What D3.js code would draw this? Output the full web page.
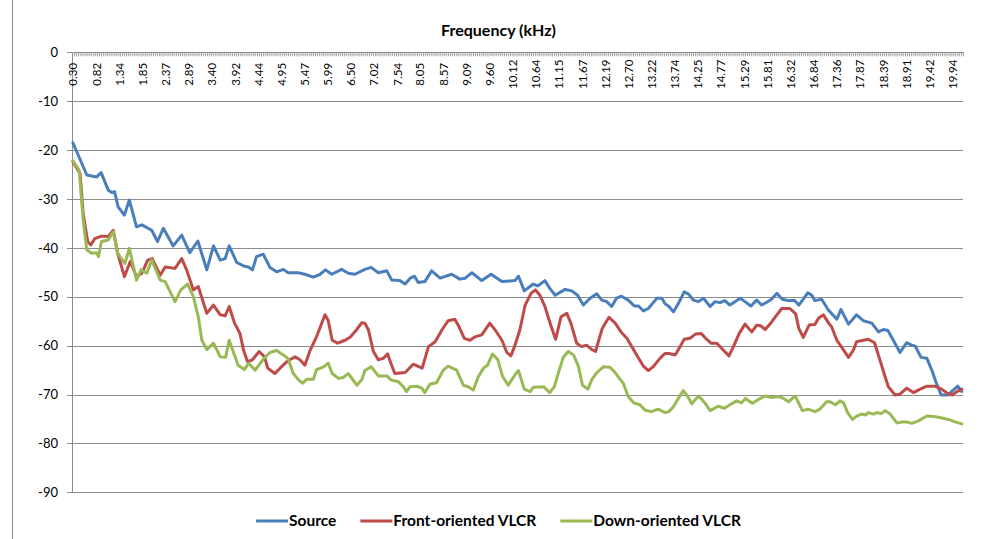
<!DOCTYPE html>
<html>
<head>
<meta charset="utf-8">
<script src="https://cdn.jsdelivr.net/npm/d3@7"></script>
<style>
  body { margin: 0; background: #fff; }
  svg { display: block; font-family: Lato, "Open Sans", sans-serif; }
</style>
</head>
<body>
<div id="chart"></div>
<script>
// tick labels on the frequency axis (kHz)
var freqLabels = ["0.30","0.82","1.34","1.85","2.37","2.89","3.40","3.92","4.44","4.95",
  "5.47","5.99","6.50","7.02","7.54","8.05","8.57","9.09","9.60","10.12",
  "10.64","11.15","11.67","12.19","12.70","13.22","13.74","14.25","14.77","15.29",
  "15.81","16.32","16.84","17.36","17.87","18.39","18.91","19.42","19.94"];
var yTicks = [0,-10,-20,-30,-40,-50,-60,-70,-80,-90];

// [kHz, dB]
var source = [
[0.30,-18.5],[0.61,-25.1],[0.83,-25.5],[0.93,-24.6],[1.09,-28.2],[1.17,-28.7],[1.23,-28.5],[1.31,-31.6],[1.45,-33.3],[1.56,-30.2],[1.72,-35.7],[1.84,-35.3],[2.06,-36.4],[2.19,-38.7],[2.32,-36.0],[2.54,-39.6],[2.73,-37.4],[2.91,-41.0],[3.09,-38.6],[3.29,-44.5],[3.44,-39.6],
[3.59,-42.5],[3.70,-42.2],[3.79,-39.6],[3.96,-43.0],[4.11,-43.7],[4.22,-43.9],[4.31,-44.5],[4.40,-41.8],[4.55,-41.3],[4.70,-44.0],[4.85,-44.9],[5.00,-44.4],[5.11,-45.1],[5.33,-45.1],[5.48,-45.4],[5.67,-46.0],[5.82,-45.4],[5.94,-44.5],[6.08,-45.4],[6.30,-44.4],[6.45,-45.2],[6.60,-45.4],[6.82,-44.4],
[6.96,-44.0],[7.12,-45.1],[7.31,-44.7],[7.42,-46.6],[7.60,-46.7],[7.72,-47.4],[7.83,-46.2],[7.93,-45.8],[8.01,-47.1],[8.16,-46.9],[8.31,-44.7],[8.50,-46.2],[8.76,-45.4],[8.94,-46.4],[9.06,-46.2],[9.21,-45.1],[9.43,-46.7],[9.64,-45.4],[9.88,-46.9],[10.17,-46.7],
[10.25,-45.8],[10.38,-48.8],[10.58,-47.4],[10.68,-47.8],[10.84,-46.7],[10.95,-48.3],[11.07,-49.7],[11.29,-48.5],[11.44,-48.8],[11.57,-49.7],[11.70,-51.7],[11.85,-50.3],[12.00,-49.4],[12.11,-50.7],[12.22,-51.0],[12.33,-52.0],[12.44,-50.3],[12.55,-49.9],[12.70,-50.7],[12.84,-51.9],[12.93,-51.9],[13.04,-52.9],[13.15,-52.4],[13.34,-50.3],[13.45,-50.3],[13.52,-51.4],
[13.61,-52.0],[13.71,-53.1],[13.82,-51.4],[13.95,-49.0],[14.04,-49.4],[14.16,-50.7],[14.27,-51.0],[14.38,-50.3],[14.53,-52.0],[14.64,-51.0],[14.75,-51.2],[14.86,-50.8],[14.97,-51.7],[15.09,-51.0],[15.20,-50.3],[15.31,-51.0],[15.44,-51.9],[15.57,-50.7],[15.68,-51.7],[15.82,-51.0],[15.90,-50.5],[16.02,-49.3],[16.14,-50.5],[16.28,-50.8],[16.41,-50.7],[16.51,-51.7],[16.61,-50.5],[16.71,-49.2],[16.80,-49.7],
[16.87,-50.8],[17.02,-50.5],[17.17,-52.7],[17.36,-54.6],[17.45,-52.6],[17.62,-55.6],[17.80,-53.7],[17.95,-54.9],[18.14,-55.4],[18.29,-57.2],[18.40,-56.7],[18.50,-56.9],[18.62,-58.9],[18.77,-61.4],[18.92,-59.4],[19.03,-59.9],[19.11,-60.1],[19.24,-62.4],[19.37,-62.6],[19.48,-65.0],[19.57,-67.4],[19.69,-70.1],[19.84,-70.1],[19.96,-69.1],[20.06,-68.3],[20.15,-69.4]
];

var front = [
[0.30,-22.4],[0.46,-24.8],[0.53,-33.0],[0.63,-38.7],[0.70,-39.4],[0.79,-38.1],[0.94,-37.6],[1.09,-37.7],[1.20,-36.4],[1.30,-41.1],[1.45,-45.9],[1.58,-42.8],[1.72,-45.9],[1.84,-45.2],[1.97,-42.5],[2.07,-42.2],[2.25,-45.6],[2.36,-43.9],[2.58,-44.2],[2.73,-42.2],[2.84,-44.5],[2.99,-48.6],[3.10,-47.9],[3.29,-53.4],[3.44,-51.7],
[3.59,-53.7],[3.70,-53.9],[3.79,-52.0],[3.91,-55.4],[4.03,-57.5],[4.11,-60.9],[4.20,-63.3],[4.31,-62.9],[4.46,-61.2],[4.58,-62.3],[4.65,-64.6],[4.81,-65.7],[4.96,-64.3],[5.10,-63.1],[5.26,-62.3],[5.37,-62.9],[5.48,-64.0],[5.60,-60.9],[5.74,-58.2],[5.93,-53.7],[6.00,-54.8],[6.09,-58.9],[6.21,-59.5],[6.38,-58.9],[6.49,-58.3],[6.64,-56.7],[6.75,-55.3],
[6.82,-55.4],[6.90,-56.8],[7.01,-61.2],[7.12,-62.9],[7.23,-62.6],[7.33,-61.7],[7.40,-63.6],[7.49,-65.7],[7.72,-65.5],[7.90,-63.8],[8.00,-64.2],[8.10,-64.6],[8.24,-60.2],[8.39,-59.2],[8.54,-56.8],[8.68,-54.9],[8.83,-54.6],[8.92,-56.1],[9.04,-58.5],[9.17,-58.9],[9.28,-58.2],[9.43,-57.8],[9.61,-55.4],[9.76,-57.2],[9.88,-58.9],[9.99,-61.4],[10.08,-62.1],[10.17,-60.0],
[10.28,-56.8],[10.40,-51.7],[10.53,-49.3],[10.63,-48.6],[10.73,-49.7],[10.84,-52.0],[10.98,-56.1],[11.08,-58.7],[11.20,-54.1],[11.33,-53.4],[11.42,-55.4],[11.55,-59.5],[11.66,-60.2],[11.77,-59.9],[11.89,-60.8],[11.97,-61.2],[12.12,-56.5],[12.27,-54.2],[12.41,-55.4],[12.54,-57.2],[12.67,-58.5],[12.78,-60.2],[12.89,-61.9],[13.04,-64.2],[13.15,-65.1],[13.26,-64.3],[13.41,-62.6],[13.52,-61.6],
[13.61,-61.6],[13.75,-61.9],[13.86,-60.2],[13.95,-58.7],[14.08,-58.5],[14.21,-57.6],[14.33,-57.5],[14.43,-58.5],[14.55,-59.5],[14.68,-59.5],[14.79,-60.6],[14.95,-62.1],[15.05,-60.2],[15.18,-57.5],[15.31,-55.6],[15.46,-57.2],[15.57,-55.8],[15.67,-56.0],[15.76,-56.7],[15.89,-55.3],[16.02,-53.7],[16.13,-52.4],[16.31,-52.4],[16.44,-53.5],[16.51,-56.5],[16.61,-58.3],[16.74,-55.8],[16.87,-55.7],
[16.95,-54.4],[17.06,-53.7],[17.17,-55.3],[17.24,-56.1],[17.36,-58.9],[17.51,-60.9],[17.62,-62.4],[17.73,-60.9],[17.80,-59.2],[17.95,-58.9],[18.06,-58.7],[18.20,-59.4],[18.30,-62.3],[18.40,-65.3],[18.51,-68.4],[18.66,-70.1],[18.77,-69.9],[18.92,-68.7],[19.07,-69.6],[19.22,-68.9],[19.37,-68.3],[19.55,-68.3],[19.70,-68.9],[19.85,-69.9],[19.94,-70.1],[20.04,-69.4],[20.15,-68.9]
];

var down = [
[0.30,-22.2],[0.44,-24.1],[0.53,-34.3],[0.61,-40.4],[0.72,-41.1],[0.83,-41.0],[0.87,-41.8],[0.94,-38.7],[1.09,-38.4],[1.20,-36.7],[1.30,-41.1],[1.46,-43.2],[1.56,-40.1],[1.72,-46.6],[1.82,-44.5],[1.95,-45.2],[2.06,-42.5],[2.25,-46.6],[2.36,-46.9],[2.58,-51.0],[2.71,-48.6],[2.86,-47.4],[2.99,-50.0],[3.10,-54.1],[3.18,-58.9],[3.29,-60.8],[3.44,-59.5],
[3.59,-62.3],[3.71,-62.4],[3.79,-58.9],[3.88,-61.2],[3.99,-64.0],[4.13,-64.9],[4.22,-63.6],[4.37,-65.0],[4.55,-62.8],[4.70,-61.4],[4.85,-61.0],[5.00,-61.9],[5.10,-62.6],[5.22,-65.7],[5.33,-66.9],[5.43,-67.7],[5.52,-66.9],[5.67,-66.9],[5.74,-64.9],[5.89,-64.4],[6.00,-63.6],[6.09,-65.7],[6.23,-66.7],[6.34,-66.5],[6.45,-65.7],[6.64,-68.1],[6.75,-67.0],
[6.82,-65.1],[6.96,-64.3],[7.12,-66.2],[7.31,-66.2],[7.40,-67.0],[7.57,-67.4],[7.68,-68.4],[7.75,-69.4],[7.83,-68.4],[7.98,-68.3],[8.09,-68.7],[8.16,-69.6],[8.27,-67.9],[8.42,-67.6],[8.57,-65.0],[8.68,-64.2],[8.87,-65.0],[9.02,-68.1],[9.13,-68.4],[9.24,-69.1],[9.35,-66.4],[9.47,-64.6],[9.56,-64.0],[9.67,-61.7],[9.79,-62.9],[9.89,-66.2],[10.02,-68.1],[10.17,-66.0],
[10.25,-65.1],[10.38,-68.9],[10.51,-69.4],[10.58,-68.5],[10.81,-68.4],[10.95,-69.6],[11.05,-68.4],[11.16,-65.0],[11.25,-62.4],[11.36,-61.2],[11.48,-61.9],[11.59,-64.3],[11.68,-68.1],[11.80,-68.9],[11.89,-66.9],[12.00,-65.5],[12.15,-64.3],[12.29,-64.4],[12.41,-65.5],[12.52,-66.9],[12.59,-67.7],[12.70,-70.4],[12.82,-71.7],[12.96,-72.1],[13.08,-73.2],[13.22,-73.5],[13.37,-73.0],[13.52,-73.7],
[13.61,-73.5],[13.71,-72.5],[13.82,-70.8],[13.93,-69.2],[14.03,-70.4],[14.12,-71.9],[14.27,-70.3],[14.42,-71.8],[14.53,-73.3],[14.71,-72.4],[14.85,-72.8],[14.97,-72.1],[15.12,-71.3],[15.23,-71.7],[15.32,-70.8],[15.47,-71.8],[15.61,-71.0],[15.76,-70.3],[15.90,-70.6],[16.05,-70.4],[16.17,-70.8],[16.28,-71.5],[16.43,-70.3],[16.59,-73.3],[16.72,-73.0],[16.87,-73.5],
[16.98,-73.0],[17.13,-71.5],[17.21,-71.5],[17.33,-72.1],[17.43,-71.3],[17.51,-71.7],[17.60,-73.7],[17.71,-75.1],[17.80,-74.4],[17.91,-74.0],[18.00,-74.2],[18.06,-73.7],[18.18,-74.0],[18.25,-73.7],[18.35,-73.9],[18.44,-73.3],[18.55,-74.0],[18.70,-75.8],[18.82,-75.6],[18.92,-75.6],[19.03,-75.9],[19.18,-75.4],[19.37,-74.4],[19.52,-74.5],[19.66,-74.7],[19.85,-75.1],[20.00,-75.6],[20.15,-76.0]
];

var seriesNames = ["Source", "Front-oriented VLCR", "Down-oriented VLCR"];
var seriesColors = ["#4A7EBB", "#BE4B48", "#98B954"];
var allSeries = [source, front, down];

var svgWidth = 984, svgHeight = 539;
var plot = {left: 72, right: 963, top: 52.3, bottom: 492.3};
var font = "Lato, 'Open Sans', sans-serif";

// width of one FFT bin in kHz (44.1 kHz / 1024)
var bin = 44.1 / 1024;

var svg = d3.select("#chart").append("svg")
  .attr("width", svgWidth)
  .attr("height", svgHeight);

svg.append("rect").attr("width", svgWidth).attr("height", svgHeight).attr("fill", "#fff");

// chart frame edge
svg.append("line")
  .attr("x1", 12.5).attr("x2", 12.5).attr("y1", 0).attr("y2", svgHeight)
  .attr("stroke", "#8a8a8a").attr("stroke-width", 1);

var x = d3.scaleLinear().domain([6.5 * bin, 468.5 * bin]).range([plot.left, plot.right]);
var y = d3.scaleLinear().domain([-90, 0]).range([plot.bottom, plot.top]);

// gridlines
svg.append("g")
  .attr("transform", `translate(${plot.left},0)`)
  .call(d3.axisLeft(y).tickValues(yTicks.filter(d => d < 0)).tickSize(-(plot.right - plot.left)).tickFormat(""))
  .call(g => g.select(".domain").remove())
  .call(g => g.selectAll("line").attr("stroke", "#8c8c8c").attr("shape-rendering", "crispEdges"));

// y axis
svg.append("g")
  .attr("transform", `translate(${plot.left},0)`)
  .call(d3.axisLeft(y).tickValues(yTicks).tickSize(5).tickSizeOuter(0).tickPadding(9).tickFormat(d => String(d)))
  .call(g => g.select(".domain").attr("stroke", "#8c8c8c").attr("shape-rendering", "crispEdges"))
  .call(g => g.selectAll("line").attr("stroke", "#8c8c8c").attr("shape-rendering", "crispEdges"))
  .call(g => g.selectAll("text").attr("font-size", 13).attr("fill", "#000").attr("font-family", font));

// category boundary comb along the top axis
var boundaries = d3.range(6, 469).map(b => (b + 0.5) * bin);
svg.append("g")
  .attr("transform", `translate(0,${plot.top})`)
  .call(d3.axisBottom(x).tickValues(boundaries).tickSize(4).tickSizeOuter(0).tickFormat(""))
  .call(g => g.select(".domain").attr("stroke", "#8c8c8c").attr("shape-rendering", "crispEdges"))
  .call(g => g.selectAll(".tick line").attr("stroke", "#8c8c8c").attr("stroke-width", 0.8));

// frequency labels, rotated, hanging below the top axis
svg.append("g")
  .attr("transform", `translate(0,${plot.top})`)
  .call(d3.axisBottom(x).tickValues(freqLabels.map(Number)).tickSize(0).tickFormat((d, i) => freqLabels[i]))
  .call(g => g.select(".domain").remove())
  .call(g => g.selectAll("text")
    .attr("transform", "rotate(-90)")
    .attr("x", -22)
    .attr("y", 0)
    .attr("dy", "0.35em")
    .attr("text-anchor", "middle")
    .attr("font-size", 11.5)
    .attr("fill", "#000")
    .attr("font-family", font));

// title
svg.append("text")
  .attr("x", 498.5).attr("y", 36)
  .attr("text-anchor", "middle")
  .attr("font-size", 16).attr("font-weight", "bold")
  .text("Frequency (kHz)");

// lines
var line = d3.line().x(d => x(d[0])).y(d => y(d[1]));
svg.append("g").selectAll("path")
  .data(allSeries)
  .enter()
  .append("path")
  .attr("d", line)
  .attr("fill", "none")
  .attr("stroke", (d, i) => seriesColors[i])
  .attr("stroke-width", 3)
  .attr("stroke-linejoin", "round")
  .attr("stroke-linecap", "round");

// legend
var legend = svg.append("g").attr("transform", "translate(0,521)");
var items = legend.selectAll("g").data(seriesNames).enter().append("g");
items.append("line")
  .attr("x1", 0).attr("x2", 32).attr("y1", 0).attr("y2", 0)
  .attr("stroke", (d, i) => seriesColors[i]).attr("stroke-width", 3);
items.append("text")
  .attr("x", 33).attr("dy", "0.35em")
  .attr("font-size", 15.5).attr("font-weight", "bold")
  .text(d => d);
var widths = [];
items.each(function() { widths.push(this.getBBox().width); });
var gap = 24;
var total = d3.sum(widths) + gap * (widths.length - 1);
var pos = 498.5 - total / 2;
items.attr("transform", function(d, i) {
  var t = `translate(${pos},0)`;
  pos += widths[i] + gap;
  return t;
});
</script>
</body>
</html>
